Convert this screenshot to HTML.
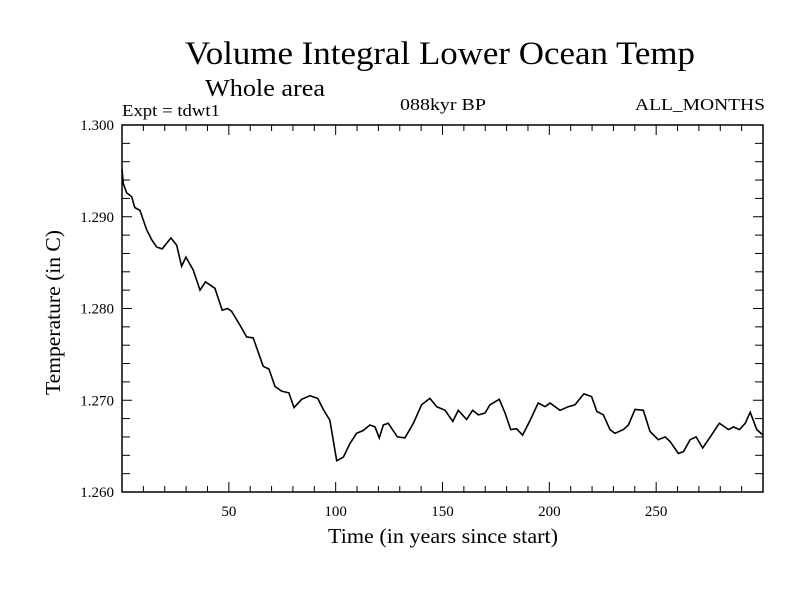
<!DOCTYPE html>
<html><head><meta charset="utf-8"><style>
body{margin:0;background:#fff}
svg{display:block;font-family:"Liberation Serif",serif}
</style></head><body>
<svg id="chart" width="800" height="600" viewBox="0 0 800 600">
<rect width="800" height="600" fill="#fff"/>
<text x="185" y="64" font-size="33" textLength="510" lengthAdjust="spacingAndGlyphs">Volume Integral Lower Ocean Temp</text>
<text x="205" y="96" font-size="24" textLength="120" lengthAdjust="spacingAndGlyphs">Whole area</text>
<text x="122" y="116" font-size="17" textLength="98" lengthAdjust="spacingAndGlyphs">Expt = tdwt1</text>
<text x="400" y="110" font-size="17" textLength="86" lengthAdjust="spacingAndGlyphs">088kyr BP</text>
<text x="635" y="110" font-size="17" textLength="130" lengthAdjust="spacingAndGlyphs">ALL_MONTHS</text>
<text x="328" y="543" font-size="21" textLength="230" lengthAdjust="spacingAndGlyphs">Time (in years since start)</text>
<text transform="translate(60,395) rotate(-90)" font-size="21" textLength="165" lengthAdjust="spacingAndGlyphs">Temperature (in C)</text>
<g id="axes"></g>
<rect x="122" y="125" width="641" height="367" fill="none" stroke="#000" stroke-width="1.5"/>
<path id="line" fill="none" stroke="#000" stroke-width="1.6"/>
</svg>
<script>
const years=[0,0.6,2.2,4.5,6,8.4,11.5,13.9,16.2,18.8,22.9,25.6,27.9,29.9,33.3,36.5,39.1,43.5,46.9,49.4,51.3,55.2,58.3,61.4,66.1,68.8,71.6,74.7,78.1,80.5,84.1,88,91.6,94.2,97.3,100.5,103.6,106.7,109.8,112.9,116,118.4,120.4,122.3,124.6,128.9,132.4,136.4,140.2,144.1,147.3,151.2,154.8,157.4,161.3,164.1,166.8,169.9,172.2,176.6,179.3,181.9,184.7,187.5,191,194.8,198,200.3,205,208.9,212,216.2,219.8,222.2,225.3,228.4,230.7,234.6,237,240.1,244,247.1,251,254.2,256.5,260.4,262.8,265.9,268.7,271.8,275.3,279.6,283.9,286.2,289,291.7,294,297.1,300];
const temps=[1.2952,1.2936,1.2926,1.2922,1.2910,1.2907,1.2886,1.2875,1.2867,1.2865,1.2877,1.2869,1.2846,1.2856,1.2842,1.2820,1.2829,1.2822,1.2798,1.2800,1.2797,1.2782,1.2769,1.2768,1.2737,1.2734,1.2715,1.2710,1.2708,1.2692,1.2701,1.2705,1.2702,1.2690,1.2678,1.2634,1.2638,1.2653,1.2664,1.2667,1.2673,1.2671,1.2659,1.2673,1.2675,1.2660,1.2659,1.2675,1.2695,1.2702,1.2693,1.2689,1.2677,1.2689,1.2679,1.2689,1.2684,1.2686,1.2695,1.2701,1.2686,1.2668,1.2669,1.2662,1.2678,1.2697,1.2693,1.2697,1.2689,1.2693,1.2695,1.2707,1.2704,1.2688,1.2684,1.2668,1.2664,1.2668,1.2673,1.2690,1.2689,1.2666,1.2657,1.2660,1.2655,1.2642,1.2644,1.2657,1.2660,1.2648,1.2660,1.2675,1.2668,1.2671,1.2668,1.2675,1.2687,1.2668,1.2662];
const xTickLabels=[50,100,150,200,250];
const yTickLabels=["1.260","1.270","1.280","1.290","1.300"];
const X0=122,X1=763,Y0=492,Y1=125,XMIN=0,XMAX=300,YMIN=1.26,YMAX=1.30;
const sx=t=>X0+(t-XMIN)/(XMAX-XMIN)*(X1-X0);
const sy=v=>Y0-(v-YMIN)/(YMAX-YMIN)*(Y0-Y1);
const NS="http://www.w3.org/2000/svg";
const axes=document.getElementById('axes');
function mk(tag,attrs){const e=document.createElementNS(NS,tag);for(const k in attrs)e.setAttribute(k,attrs[k]);return e;}
for(let t=10;t<300;t+=10){
  const len=(t%50===0)?10:6,x=sx(t);
  const a=mk('line',{x1:x,x2:x,y1:Y0,y2:Y0-len,stroke:'#000'});
  
  
  axes.appendChild(a);
  const b=mk('line',{x1:x,x2:x,y1:Y1,y2:Y1+len,stroke:'#000'});
  
  
  axes.appendChild(b);
}
xTickLabels.forEach(v=>{
  const t=mk('text',{x:sx(v),y:516,'font-size':15,'text-anchor':'middle'});
  t.textContent=v;
  
  
  axes.appendChild(t);
});
for(let i=1;i<20;i++){
  const v=YMIN+i*0.002,y=sy(v),len=(i%5===0)?10:8;
  const a=mk('line',{x1:X0,x2:X0+len,y1:y,y2:y,stroke:'#000'});
  
  
  axes.appendChild(a);
  const b=mk('line',{x1:X1,x2:X1-len,y1:y,y2:y,stroke:'#000'});
  
  
  axes.appendChild(b);
}
yTickLabels.forEach(s=>{
  const t=mk('text',{x:114,y:sy(parseFloat(s))+5,'font-size':15,'text-anchor':'end'});
  t.textContent=s;
  
  
  axes.appendChild(t);
});
document.getElementById('line').setAttribute('d',years.map((t,i)=>(i?'L':'M')+sx(t).toFixed(1)+' '+sy(temps[i]).toFixed(1)).join(' '));
</script>
</body></html>
